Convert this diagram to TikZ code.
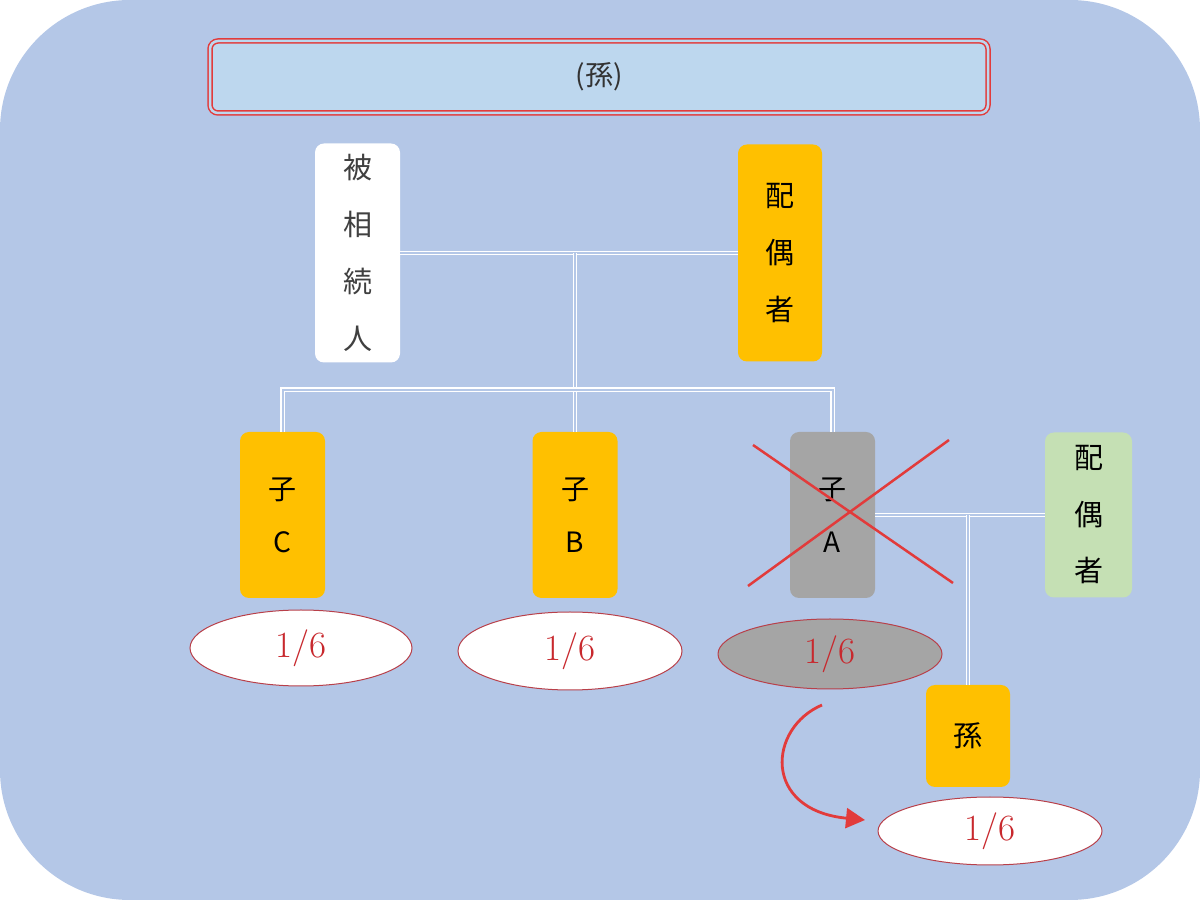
\documentclass[tikz,border=0pt]{standalone}
\usepackage{fontspec}
\newfontfamily\jp{Noto Sans CJK JP}
\usetikzlibrary{shapes.geometric,arrows.meta}

\definecolor{bgblue}{HTML}{B4C7E7}
\definecolor{titleblue}{HTML}{BDD7EE}
\definecolor{gold}{HTML}{FFC000}
\definecolor{ashgrey}{HTML}{A5A5A5}
\definecolor{sage}{HTML}{C5E0B4}
\definecolor{crossred}{HTML}{E23B3B}
\definecolor{ovalred}{HTML}{B8404A}
\definecolor{fracred}{HTML}{C8282D}

\begin{document}
\begin{tikzpicture}[
        x=1pt, y=1pt,
        person/.style={rounded corners=9pt, inner sep=0pt, align=center,
            minimum width=85pt, font=\jp\fontsize{29}{57}\selectfont},
        kid/.style={person, fill=gold, minimum height=166pt,
            font=\jp\fontsize{28}{53}\selectfont},
        share/.style={ellipse, draw=ovalred, line width=1pt, fill=white,
            inner sep=0pt, minimum width=224pt, minimum height=76pt,
            text=fracred, font=\fontsize{37}{40}\selectfont},
        tie/.style={draw=white, double=bgblue, line width=1.3pt, double distance=2pt},
        cross/.style={draw=crossred, line width=2.5pt},
        pass/.style={draw=crossred, line width=2.8pt, -{Triangle[length=19pt, width=20pt]}}
    ]
    \useasboundingbox (0,0) rectangle (1200,900);
    \fill[bgblue, rounded corners=130pt] (0,0) rectangle (1200,900);

    % heading
    \node[draw=crossred, double=titleblue, line width=1.5pt, double distance=2.5pt,
        fill=titleblue, rounded corners=8pt, minimum width=778pt, minimum height=72pt,
        font=\jp\fontsize{28}{30}\selectfont, text=black!80] (title) at (599,823) {(孫)};

    % first generation
    \node[person, fill=white, text=black!75, minimum height=219pt] (deceased) at (357.5,647) {被\\相\\続\\人};
    \node[person, fill=gold, minimum height=217pt, minimum width=84pt] (spouse) at (780,647) {配\\偶\\者};

    % children
    \node[kid] (childC) at (282.5,385) {子\\C};
    \node[kid] (childB) at (575,385) {子\\B};
    \node[kid, fill=ashgrey] (childA) at (832.5,385) {子\\A};
    \node[person, fill=sage, minimum height=165pt, minimum width=87pt,
        font=\jp\fontsize{29}{56.5}\selectfont] (spouseA) at (1088.5,385) {配\\偶\\者};
    \node[person, fill=gold, minimum height=102pt, minimum width=84pt] (grand) at (968,164) {孫};

    % shares
    \node[share, minimum width=222pt] (shareC) at (301,252) {1/6};
    \node[share, minimum height=78pt] (shareB) at (570,249) {1/6};
    \node[share, fill=ashgrey, minimum height=70pt] (shareA) at (830,246) {1/6};
    \node[share, minimum height=68pt] (shareG) at (990,69) {1/6};

    % family lines
    \coordinate (marr) at (575,647);
    \coordinate (marrA) at (968,385);
    \draw[tie] (deceased.east) -- (spouse.west);
    \draw[tie] (marr) -- (childB.north);
    \draw[tie] (childC.north) -- ++(0,42) -| (childA.north);
    \draw[tie] (childA.east) -- (spouseA.west);
    \draw[tie] (marrA) -- (grand.north);

    % deceased child
    \draw[cross] (753,455) -- (953,317);
    \draw[cross] (748,314) -- (949,460);

    % share passes to the grandchild
    \coordinate (passfrom) at (822,195);
    \coordinate (passto) at (865,80);
    \draw[pass] (passfrom) .. controls (768,172) and (762,90) .. (passto);
\end{tikzpicture}
\end{document}
